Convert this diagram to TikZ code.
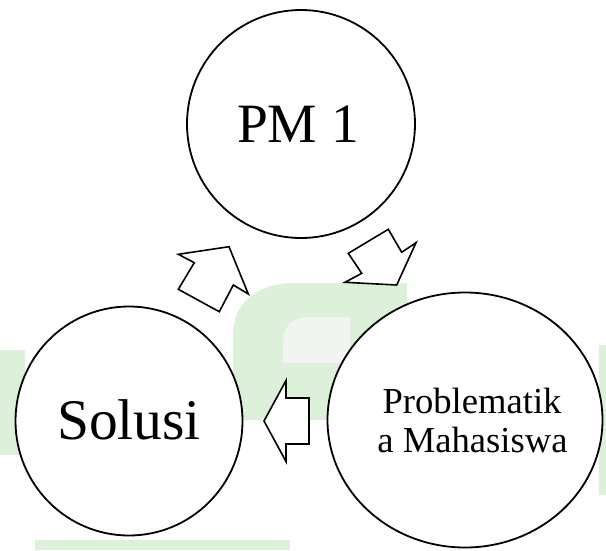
\documentclass[tikz,border=0pt]{standalone}
\usepackage{fontspec}
\setmainfont{Liberation Serif}
\usetikzlibrary{shapes.geometric}
\definecolor{wmgreen}{HTML}{DDF1DA}
\definecolor{wmgrey}{HTML}{F2F4F2}
\begin{document}
\begin{tikzpicture}[x=1pt,y=-1pt,
  bubble/.style={draw=black, line width=1.8pt, fill=white, ellipse, inner sep=0pt},
  blockarrow/.style={draw=black, line width=1.6pt, fill=white, line join=miter},
  wm/.style={fill=wmgreen, draw=none},
  wmhole/.style={fill=wmgrey, draw=none},
  lbl/.style={anchor=base, inner sep=0pt}]
\useasboundingbox (0,0) rectangle (606,550);
% faint watermark behind
\fill[wm] (233,420) -- (233,335) .. controls (233,300) and (260,283) .. (295,283) -- (407,283) -- (407,420) -- cycle;
\fill[wmhole] (283,363) -- (283,340) .. controls (283,325) and (295,317) .. (310,317) -- (350,317) -- (350,363) -- cycle;
\fill[wm] (0,350) rectangle (25,455);
\fill[wm] (35,540) rectangle (290,550);
\fill[wm] (599,345) rectangle (606,495);
% circles
\node[bubble, minimum width=228pt, minimum height=228pt] (pm) at (301,124) {};
\node[bubble, minimum width=227pt, minimum height=229pt] (sol) at (129,421) {};
\node[bubble, minimum width=275pt, minimum height=255pt] (prob) at (465,420) {};
% texts
\node[lbl] (tpm) at (298,142) {\fontsize{55.5}{60}\selectfont PM 1};
\node[lbl] (tsol) at (129,439.5) {\fontsize{57.5}{62}\selectfont Solusi};
\node[lbl] (tprob1) at (472,413) {\fontsize{36.6}{40}\selectfont Problematik};
\node[lbl] (tprob2) at (472.5,452) {\fontsize{36.6}{40}\selectfont a Mahasiswa};
% block arrows
\draw[blockarrow] (229,246.7) -- (248.3,294) -- (233.3,285) -- (219.3,311.7) -- (178.3,289.3) -- (194.3,262.7) -- (178.3,254.3) -- cycle;
\draw[blockarrow] (396.7,285) -- (416,242.7) -- (401.7,252.3) -- (388.3,229.3) -- (348.3,253.3) -- (361.7,273.3) -- (345,282.3) -- cycle;
\draw[blockarrow] (264,421) -- (286,380.5) -- (286,398) -- (309,398) -- (309,444) -- (286,444) -- (286,461.5) -- cycle;
\end{tikzpicture}
\end{document}
